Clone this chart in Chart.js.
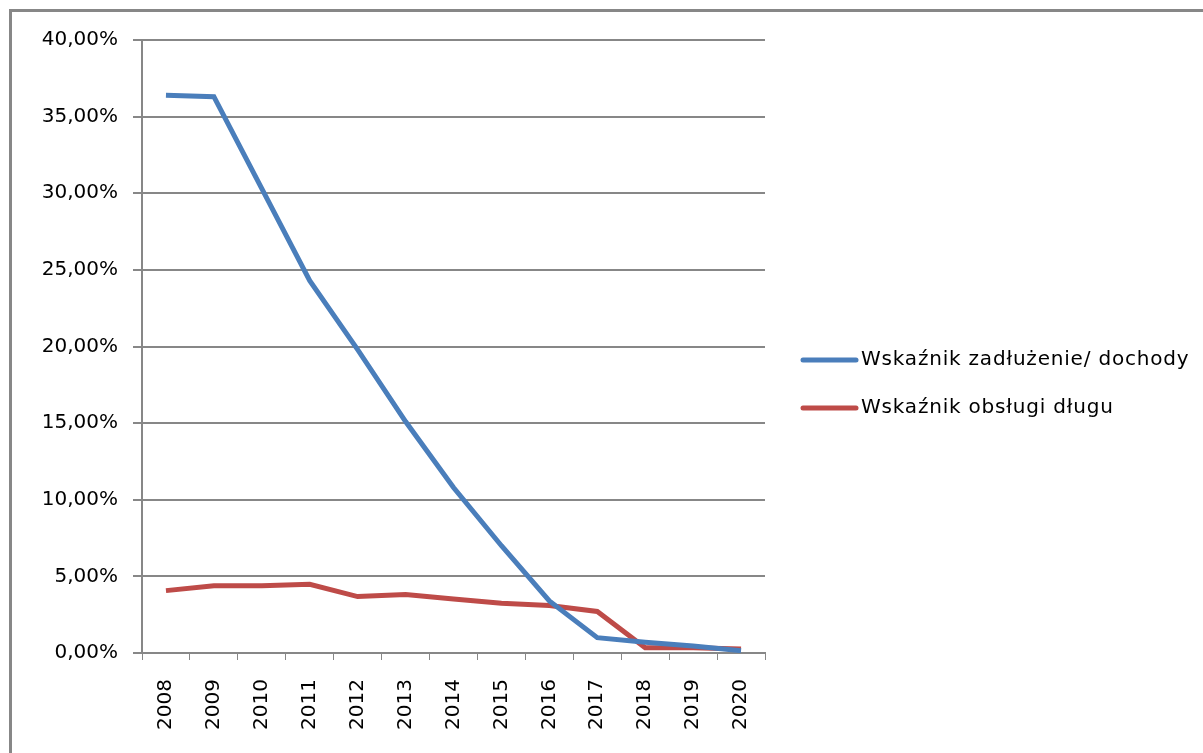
<!DOCTYPE html>
<html lang="pl">
<head>
  <meta charset="UTF-8">
  <title>Wskaźniki zadłużenia</title>
  <script src="https://cdn.jsdelivr.net/npm/chart.js"></script>
  <style>
    html, body { margin: 0; padding: 0; background: #fff; overflow: hidden; }
    #wykres { display: block; }
  </style>
</head>
<body>
  <canvas id="wykres" width="1203" height="753"></canvas>

  <script>
    // Dane
    const lata = ['2008', '2009', '2010', '2011', '2012', '2013', '2014',
                  '2015', '2016', '2017', '2018', '2019', '2020'];
    const zadluzenieDochody = [36.4, 36.3, 30.3, 24.3, 19.8, 15.1, 10.8,
                               7.0, 3.4, 1.0, 0.7, 0.45, 0.15];
    const obslugaDlugu = [4.07, 4.39, 4.39, 4.48, 3.68, 3.81, 3.53,
                          3.25, 3.1, 2.71, 0.35, 0.35, 0.26];
    const etykiety = ['Wskaźnik zadłużenie/ dochody', 'Wskaźnik obsługi długu'];
    const kolory = ['#4A7EBB', '#BE4B48'];

    const szaryOs = '#878787';
    const czcionka = "'DejaVu Sans', sans-serif";

    // Ramka obszaru wykresu (tylko lewa i górna krawędź są widoczne)
    const ramkaPlugin = {
      id: 'ramka',
      beforeDraw(chart) {
        const ctx = chart.ctx;
        ctx.save();
        ctx.strokeStyle = szaryOs;
        ctx.lineWidth = 3;
        ctx.beginPath();
        ctx.moveTo(10.5, 753);
        ctx.lineTo(10.5, 10.5);
        ctx.lineTo(1203, 10.5);
        ctx.stroke();
        ctx.restore();
      }
    };

    // Legenda rysowana po prawej stronie
    const legendaPlugin = {
      id: 'legendaWlasna',
      afterDraw(chart) {
        const ctx = chart.ctx;
        ctx.save();
        chart.data.datasets.forEach(function(ds, i) {
          const y = 360 + i * 48;
          ctx.strokeStyle = ds.borderColor;
          ctx.lineWidth = 5;
          ctx.lineCap = 'round';
          ctx.beginPath();
          ctx.moveTo(803, y);
          ctx.lineTo(856, y);
          ctx.stroke();
          ctx.fillStyle = '#000';
          ctx.font = '20px ' + czcionka;
          ctx.letterSpacing = '0.8px';
          ctx.textBaseline = 'middle';
          ctx.textAlign = 'left';
          ctx.fillText(ds.label, 861, y);
        });
        ctx.restore();
      }
    };

    const ctx = document.getElementById('wykres').getContext('2d');
    new Chart(ctx, {
      type: 'line',
      data: {
        labels: lata,
        datasets: [
          { label: etykiety[0], data: zadluzenieDochody, borderColor: kolory[0],
            backgroundColor: kolory[0], borderWidth: 5, pointRadius: 0, tension: 0 },
          { label: etykiety[1], data: obslugaDlugu, borderColor: kolory[1],
            backgroundColor: kolory[1], borderWidth: 5, pointRadius: 0, tension: 0 }
        ]
      },
      options: {
        responsive: false,
        animation: false,
        layout: { padding: { left: 0, top: 40, right: 438, bottom: 0 } },
        plugins: {
          legend: { display: false },
          tooltip: { enabled: false }
        },
        scales: {
          x: {
            type: 'category',
            offset: true,
            grid: { offset: true, drawOnChartArea: false, drawTicks: true,
                    tickLength: 7, color: szaryOs, lineWidth: 1 },
            border: { color: szaryOs, width: 2 },
            ticks: { minRotation: 90, maxRotation: 90, padding: 19, color: '#000',
                     font: { family: czcionka, size: 20 }, autoSkip: false },
            afterFit(scale) { scale.height = 100; }
          },
          y: {
            min: 0,
            max: 40,
            grid: { color: szaryOs, lineWidth: 2, tickLength: 9 },
            border: { color: szaryOs, width: 2 },
            ticks: {
              stepSize: 5, padding: 15, color: '#000',
              font: { family: czcionka, size: 20 },
              callback: function(v) { return v.toFixed(2).replace('.', ',') + '%'; }
            },
            afterFit(scale) { scale.width = 142; }
          }
        }
      },
      plugins: [ramkaPlugin, legendaPlugin]
    });
  </script>
</body>
</html>
